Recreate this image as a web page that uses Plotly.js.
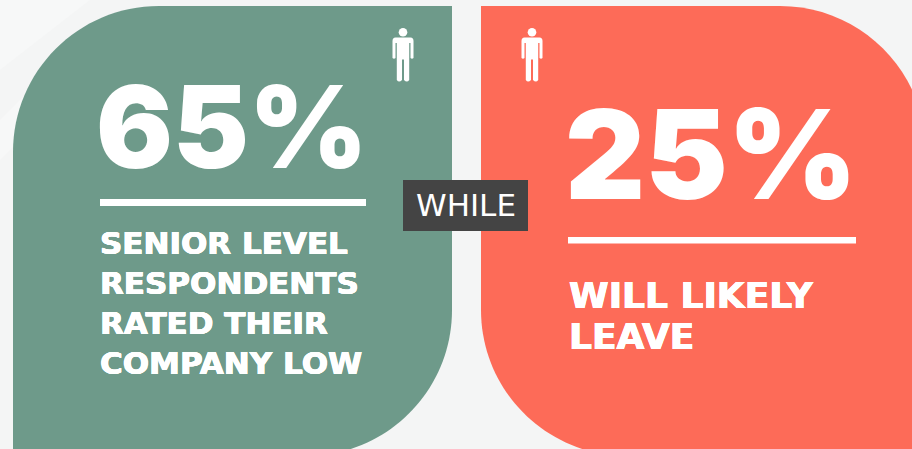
<!DOCTYPE html>
<html>
<head>
<meta charset="utf-8">
<script src="https://cdn.plot.ly/plotly-3.0.1.min.js"></script>
<style>html,body{margin:0;padding:0;background:#f4f5f5;overflow:hidden}#chart{width:912px;height:449px}</style>
</head>
<body>
<div id="chart"></div>
<script>
// Figures and wording of the two comparison panels
const percentages = [65, 25];
const connector = 'WHILE';
const seniorLines = ['SENIOR LEVEL', 'RESPONDENTS', 'RATED THEIR', 'COMPANY LOW'];
const leaveLines = ['WILL LIKELY', 'LEAVE'];

const GREEN = '#6e9a8a', CORAL = '#fd6b58', DARK = '#444444', WHITE = '#ffffff';
const FIGURE_FACE = 'Inter, sans-serif';
const WIDE_FACE = '"DejaVu Sans", sans-serif';
const HEAVY = '0.5px 0 0 #ffffff, -0.5px 0 0 #ffffff, 0 0.3px 0 #ffffff, 0 -0.3px 0 #ffffff';
const K = 0.5523;

// Rectangle with two rounded corners, as an SVG path in pixel-like axis units
function leftPanel(x0, y0, x1, y1, r) {
  return `M${x0},${y1} L${x0},${y0 + r} C${x0},${y0 + r - K * r} ${x0 + r - K * r},${y0} ${x0 + r},${y0} ` +
         `L${x1},${y0} L${x1},${y1 - r} C${x1},${y1 - r + K * r} ${x1 - r + K * r},${y1} ${x1 - r},${y1} Z`;
}
function rightPanel(x0, y0, x1, y1, r) {
  return `M${x0},${y0} L${x1 - r},${y0} C${x1 - r + K * r},${y0} ${x1},${y0 + r - K * r} ${x1},${y0 + r} ` +
         `L${x1},${y1} L${x0 + r},${y1} C${x0 + r - K * r},${y1} ${x0},${y1 - r + K * r} ${x0},${y1 - r} Z`;
}
// Standing person pictogram: body outline plus round head
function personBody(c) {
  const p = (dx, y) => `${c + dx},${y}`;
  return 'M' + p(-7.5, 37.5) + ' L' + p(7.5, 37.5) + ' Q' + p(10.5, 37.5) + ' ' + p(10.5, 41) +
    ' L' + p(10.5, 58) + ' Q' + p(9, 59.5) + ' ' + p(7.5, 58) + ' L' + p(7.5, 43) + ' L' + p(6.2, 43) +
    ' L' + p(6.2, 80) + ' Q' + p(4, 83) + ' ' + p(1, 80) + ' L' + p(1, 59.5) + ' L' + p(-1, 59.5) +
    ' L' + p(-1, 80) + ' Q' + p(-4, 83) + ' ' + p(-6.2, 80) + ' L' + p(-6.2, 43) + ' L' + p(-7.5, 43) +
    ' L' + p(-7.5, 58) + ' Q' + p(-9, 59.5) + ' ' + p(-10.5, 58) + ' L' + p(-10.5, 41) + ' Q' + p(-10.5, 37.5) + ' ' + p(-7.5, 37.5) + ' Z';
}
function person(c) {
  const plain = {xref: 'x', yref: 'y', fillcolor: WHITE, line: {width: 0}};
  return [
    Object.assign({type: 'path', path: personBody(c)}, plain),
    Object.assign({type: 'circle', x0: c - 4.3, x1: c + 4.3, y0: 28, y1: 36.6}, plain)
  ];
}
function solidRect(x0, x1, y0, y1, color) {
  return {type: 'rect', xref: 'x', yref: 'y', x0, x1, y0, y1, fillcolor: color, line: {width: 0}};
}
// Faint diagonal bands of the page backdrop
function band(points) {
  return {type: 'path', path: 'M' + points.map(q => q.join(',')).join(' L') + ' Z',
          fillcolor: '#f7f8f8', line: {width: 0}, layer: 'below'};
}
function label(text, x, y, size, weight, face, anchor, shadow) {
  const font = {family: face, size, color: WHITE, weight};
  if (shadow) font.shadow = shadow;
  return {text, x, y, xref: 'x', yref: 'y', xanchor: anchor || 'left', yanchor: 'middle', showarrow: false, font};
}

const shapes = [
  band([[0, 0], [90, 0], [0, 70]]),
  band([[0, 120], [60, 60], [60, 100], [0, 160]]),
  {type: 'path', path: leftPanel(13, 6, 452, 456, 146), fillcolor: GREEN, line: {width: 0}},
  {type: 'path', path: rightPanel(481, 6, 926, 456, 146), fillcolor: CORAL, line: {width: 0}},
  solidRect(100, 366, 199, 206, WHITE),
  solidRect(568, 856, 237, 243.5, WHITE),
  solidRect(403, 528, 180, 231, DARK),
  ...person(403),
  ...person(532)
];

const annotations = [
  label(percentages[0] + '%', 94, 126.5, 114, 900, FIGURE_FACE),
  label(percentages[1] + '%', 563, 154, 124, 900, FIGURE_FACE),
  label(connector, 465.5, 205, 31, 400, WIDE_FACE, 'center'),
  ...seniorLines.map((t, i) => label(t, 98, 243 + i * 40, 31, 700, WIDE_FACE, 'left', HEAVY)),
  ...leaveLines.map((t, i) => label(t, 567, 295 + i * 41, 36, 700, WIDE_FACE, 'left', HEAVY))
];

Plotly.newPlot('chart', [], {
  width: 912, height: 449,
  margin: {l: 0, r: 0, t: 0, b: 0},
  paper_bgcolor: '#f4f5f5', plot_bgcolor: '#f4f5f5',
  showlegend: false,
  xaxis: {range: [0, 912], visible: false, fixedrange: true},
  yaxis: {range: [449, 0], visible: false, fixedrange: true},
  shapes, annotations
}, {displayModeBar: false, staticPlot: true});
</script>
</body>
</html>
